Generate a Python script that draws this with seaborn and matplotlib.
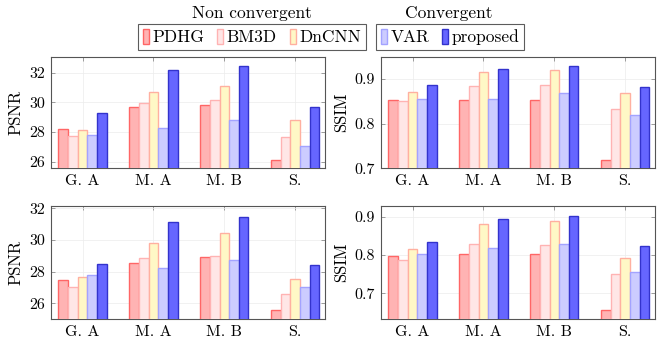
import pandas as pd
import matplotlib
matplotlib.use('Agg')
import matplotlib.pyplot as plt
from matplotlib.patches import Patch
import seaborn as sns

scenes = ['G. A', 'M. A', 'M. B', 'S.']
methods = ['PDHG', 'BM3D', 'DnCNN', 'VAR', 'proposed']

# values, one list per method (order of scenes)
psnr_top = {
    'PDHG': [28.18, 29.66, 29.82, 26.13],
    'BM3D': [27.73, 29.96, 30.13, 27.64],
    'DnCNN': [28.11, 30.67, 31.08, 28.83],
    'VAR': [27.80, 28.25, 28.79, 27.03],
    'proposed': [29.26, 32.16, 32.47, 29.66],
}
ssim_top = {
    'PDHG': [0.853, 0.854, 0.853, 0.719],
    'BM3D': [0.851, 0.884, 0.887, 0.832],
    'DnCNN': [0.871, 0.916, 0.920, 0.868],
    'VAR': [0.856, 0.856, 0.869, 0.819],
    'proposed': [0.886, 0.923, 0.929, 0.883],
}
psnr_bottom = {
    'PDHG': [27.50, 28.58, 28.94, 25.56],
    'BM3D': [27.02, 28.88, 29.00, 26.56],
    'DnCNN': [27.69, 29.79, 30.42, 27.56],
    'VAR': [27.77, 28.23, 28.75, 27.00],
    'proposed': [28.46, 31.17, 31.46, 28.40],
}
ssim_bottom = {
    'PDHG': [0.797, 0.802, 0.804, 0.656],
    'BM3D': [0.786, 0.829, 0.827, 0.750],
    'DnCNN': [0.815, 0.882, 0.888, 0.791],
    'VAR': [0.804, 0.819, 0.829, 0.756],
    'proposed': [0.833, 0.895, 0.901, 0.823],
}

fills = ['#ffb3b3', '#ffe6e6', '#fff8c6', '#ccccff', '#6666ff']
edges = ['#ff6666', '#ffb3b3', '#ffb0a0', '#a3a3ff', '#3333cc']

W, H = 665, 348

plt.rcParams['font.family'] = 'cmr10'
plt.rcParams['mathtext.fontset'] = 'cm'
plt.rcParams['axes.formatter.use_mathtext'] = True


def to_long(values):
    rows = []
    for m in methods:
        for s, v in zip(scenes, values[m]):
            rows.append({'scene': s, 'method': m, 'value': v})
    return pd.DataFrame(rows)


def draw_panel(fig, box, values, ylabel, ylim, yticks, fmt):
    left, top, right, bottom = box
    ax = fig.add_axes([left / W, 1 - bottom / H, (right - left) / W, (bottom - top) / H])
    df = to_long(values)
    sns.barplot(data=df, x='scene', y='value', hue='method', order=scenes,
                hue_order=methods, palette=fills, saturation=1, width=0.68,
                dodge=True, legend=False, ax=ax, zorder=3)
    for cont, ec in zip(ax.containers, edges):
        for bar in cont:
            bar.set_edgecolor(ec)
            bar.set_linewidth(1.0)
    ax.set_xlim(-0.45, 3.42)
    ax.set_ylim(*ylim)
    ax.set_yticks(yticks)
    ax.set_yticklabels([fmt.format(t) for t in yticks])
    ax.set_xlabel('')
    ax.set_ylabel(ylabel, fontsize=12, labelpad=4)
    ax.grid(True, color='#ececec', linewidth=0.5, zorder=0)
    ax.set_axisbelow(True)
    ax.tick_params(direction='in', length=3, width=0.5, color='#777777',
                   top=True, right=True, labelsize=11.5, pad=4)
    for sp in ax.spines.values():
        sp.set_color('#555555')
        sp.set_linewidth(0.8)
    return ax


fig = plt.figure(figsize=(W / 100, H / 100), dpi=100)
fig.patch.set_facecolor('white')

draw_panel(fig, (50.7, 56.7, 325, 168.3), psnr_top, 'PSNR',
           (25.55, 33.08), [26, 28, 30, 32], '{:.0f}')
draw_panel(fig, (380.7, 56.7, 655, 168.3), ssim_top, 'SSIM',
           (0.7, 0.95), [0.7, 0.8, 0.9], '{:.1f}')
draw_panel(fig, (50.7, 205.7, 325, 319.3), psnr_bottom, 'PSNR',
           (24.99, 32.17), [26, 28, 30, 32], '{:.0f}')
draw_panel(fig, (380.7, 205.7, 655, 319.3), ssim_bottom, 'SSIM',
           (0.632, 0.929), [0.7, 0.8, 0.9], '{:.1f}')

handles = [Patch(facecolor=f, edgecolor=e, linewidth=1.0) for f, e in zip(fills, edges)]
leg_kw = dict(ncol=3, frameon=True, fancybox=False, fontsize=12.5,
              handlelength=0.35, handleheight=1.0, handletextpad=0.2,
              columnspacing=0.75, borderpad=0.25, borderaxespad=0)
leg1 = fig.legend(handles[:3], methods[:3], loc='center',
                  bbox_to_anchor=(252 / W, 1 - 37 / H), **leg_kw)
leg2 = fig.legend(handles[3:], methods[3:], loc='center',
                  bbox_to_anchor=(450 / W, 1 - 37 / H), **leg_kw)
for leg in (leg1, leg2):
    leg.get_frame().set_edgecolor('#333333')
    leg.get_frame().set_linewidth(0.8)

fig.text(252 / W, 1 - 13 / H, 'Non convergent', ha='center', va='center', fontsize=12.5)
fig.text(449 / W, 1 - 13 / H, 'Convergent', ha='center', va='center', fontsize=12.5)

fig.savefig('out.png', dpi=100)
